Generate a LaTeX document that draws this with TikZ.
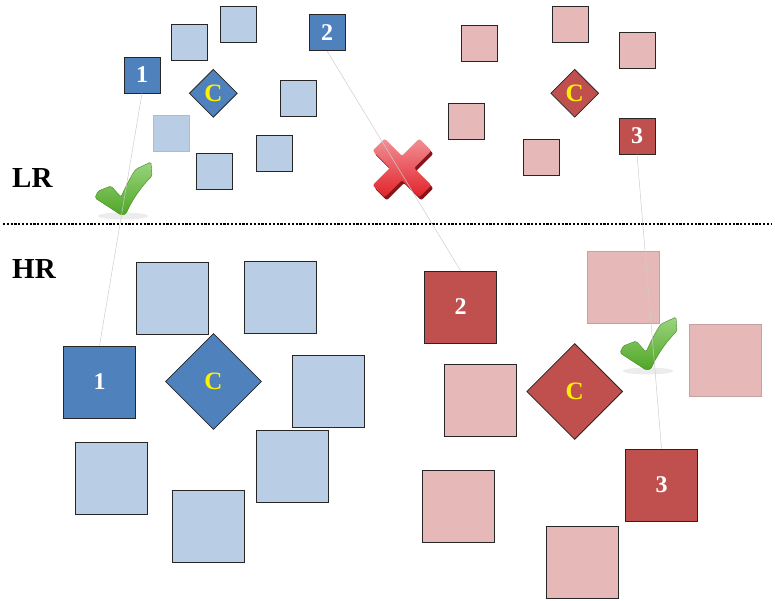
\documentclass[tikz,border=0pt]{standalone}
\usepackage{fontspec}
\setmainfont{Liberation Serif}
\usetikzlibrary{shapes.geometric, positioning}
\definecolor{deepblue}{HTML}{4F81BD}
\definecolor{paleblue}{HTML}{B9CDE5}
\definecolor{deepred}{HTML}{C0504D}
\definecolor{palered}{HTML}{E6B9B8}
\definecolor{edgegray}{HTML}{262626}
\definecolor{softblueedge}{HTML}{A9BCD5}
\definecolor{softrededge}{HTML}{C4A2A2}
\definecolor{tickgreen}{HTML}{58B82A}
\definecolor{crossred}{HTML}{E2222A}

\tikzset{
  lrbox/.style={rectangle, draw=edgegray, line width=0.8pt, minimum size=36pt, inner sep=0pt},
  hrbox/.style={lrbox, minimum size=72pt},
  lrgem/.style={diamond, draw=edgegray, line width=0.8pt, minimum size=48pt, inner sep=0pt, aspect=1},
  hrgem/.style={lrgem, minimum size=96pt},
  numtag/.style={font=\fontsize{24}{24}\selectfont\bfseries, text=white},
  centretag/.style={font=\fontsize{25}{25}\selectfont\bfseries, text=yellow},
  tierlabel/.style={font=\fontsize{29}{29}\selectfont\bfseries, inner sep=0pt, anchor=west},
  link/.style={draw=gray!40, line width=0.5pt},
  divider/.style={line width=2.6pt, dash pattern=on 2.2pt off 1.6pt},
  okmark/.pic={
    \fill[gray!15] (2,1) ellipse (25pt and 3.5pt);
    \shadedraw[top color=tickgreen!60!white, bottom color=tickgreen!90!black, draw=tickgreen!75!black,
      line width=0.4pt, rounded corners=1.5pt]
      (0,0) -- (-26,-17) -- (-23,-24) -- (-10,-29) -- (0,-18)
      .. controls (5,-29) and (10,-39) .. (15,-46) -- (30,-53) -- (31,-39)
      .. controls (19,-27) and (10,-13) .. (5,-1) -- cycle;
  },
  nomark/.pic={
    \fill[crossred!60!black, xshift=2pt, yshift=-3pt, rotate=45, rounded corners=2pt]
      (-8.5,-33) -- (8.5,-33) -- (8.5,-8.5) -- (33,-8.5) -- (33,8.5) -- (8.5,8.5) -- (8.5,33)
      -- (-8.5,33) -- (-8.5,8.5) -- (-33,8.5) -- (-33,-8.5) -- (-8.5,-8.5) -- cycle;
    \shade[top color=crossred!50!white, bottom color=crossred, rotate=45, rounded corners=2pt]
      (-8.5,-33) -- (8.5,-33) -- (8.5,-8.5) -- (33,-8.5) -- (33,8.5) -- (8.5,8.5) -- (8.5,33)
      -- (-8.5,33) -- (-8.5,8.5) -- (-33,8.5) -- (-33,-8.5) -- (-8.5,-8.5) -- cycle;
  }
}

\begin{document}
\begin{tikzpicture}[x=1pt, y=-1pt]
  \useasboundingbox (0,0) rectangle (775,601);

  % low resolution, blue side
  \foreach \x/\y [count=\i] in {189.5/42.5, 238/24.5, 298/98.5, 214/171, 274/153}
    \node[lrbox, fill=paleblue] (lb\i) at (\x,\y) {};
  \node[lrbox, fill=paleblue, draw=softblueedge] (lbfaint) at (171.5,133) {};
  \node[lrbox, fill=deepblue, numtag] (lrone) at (142,75) {1};
  \node[lrbox, fill=deepblue, numtag] (lrtwo) at (327,32.5) {2};
  \node[lrgem, fill=deepblue, centretag] (lrcb) at (213.3,93.3) {C};

  % low resolution, red side
  \foreach \x/\y [count=\i] in {479.5/43.5, 570/24.5, 637/50.5, 466/121, 541/157}
    \node[lrbox, fill=palered] (lr\i) at (\x,\y) {};
  \node[lrbox, fill=deepred, numtag] (lrthree) at (637,136) {3};
  \node[lrgem, fill=deepred, centretag] (lrcr) at (574.7,93.3) {C};

  % high resolution, blue side
  \foreach \x/\y [count=\i] in {172/298, 280/297, 328/391, 111.5/478, 208/526, 292/466}
    \node[hrbox, fill=paleblue] (hb\i) at (\x,\y) {};
  \node[hrbox, fill=deepblue, numtag] (hrone) at (99.5,382) {1};
  \node[hrgem, fill=deepblue, centretag] (hrcb) at (213.5,381.5) {C};

  % high resolution, red side
  \foreach \x/\y [count=\i] in {480/400, 458/506, 582/562}
    \node[hrbox, fill=palered] (hr\i) at (\x,\y) {};
  \foreach \x/\y [count=\i] in {623/287.5, 725.5/360}
    \node[hrbox, fill=palered, draw=softrededge] (hrfaint\i) at (\x,\y) {};
  \node[hrbox, fill=deepred, numtag] (hrtwo) at (460.5,307) {2};
  \node[hrbox, fill=deepred, numtag] (hrthree) at (661.5,485) {3};
  \node[hrgem, fill=deepred, centretag] (hrcr) at (574.7,391.5) {C};

  % tiers
  \node[tierlabel] (lrlabel) at (12,178) {LR};
  \node[tierlabel] (hrlabel) at (12,269) {HR};
  \coordinate (divl) at (3,224);
  \coordinate (divr) at (772,224);
  \draw[divider] (divl) -- (divr);

  % marks
  \pic at (121,215) {okmark};
  \pic at (646,370) {okmark};
  \pic at (402,168) {nomark};

  % matches
  \draw[link] (lrone.south) -- (hrone.north);
  \draw[link] (lrtwo.south) -- (hrtwo.north);
  \draw[link] (lrthree.south) -- (hrthree.north);
\end{tikzpicture}
\end{document}
